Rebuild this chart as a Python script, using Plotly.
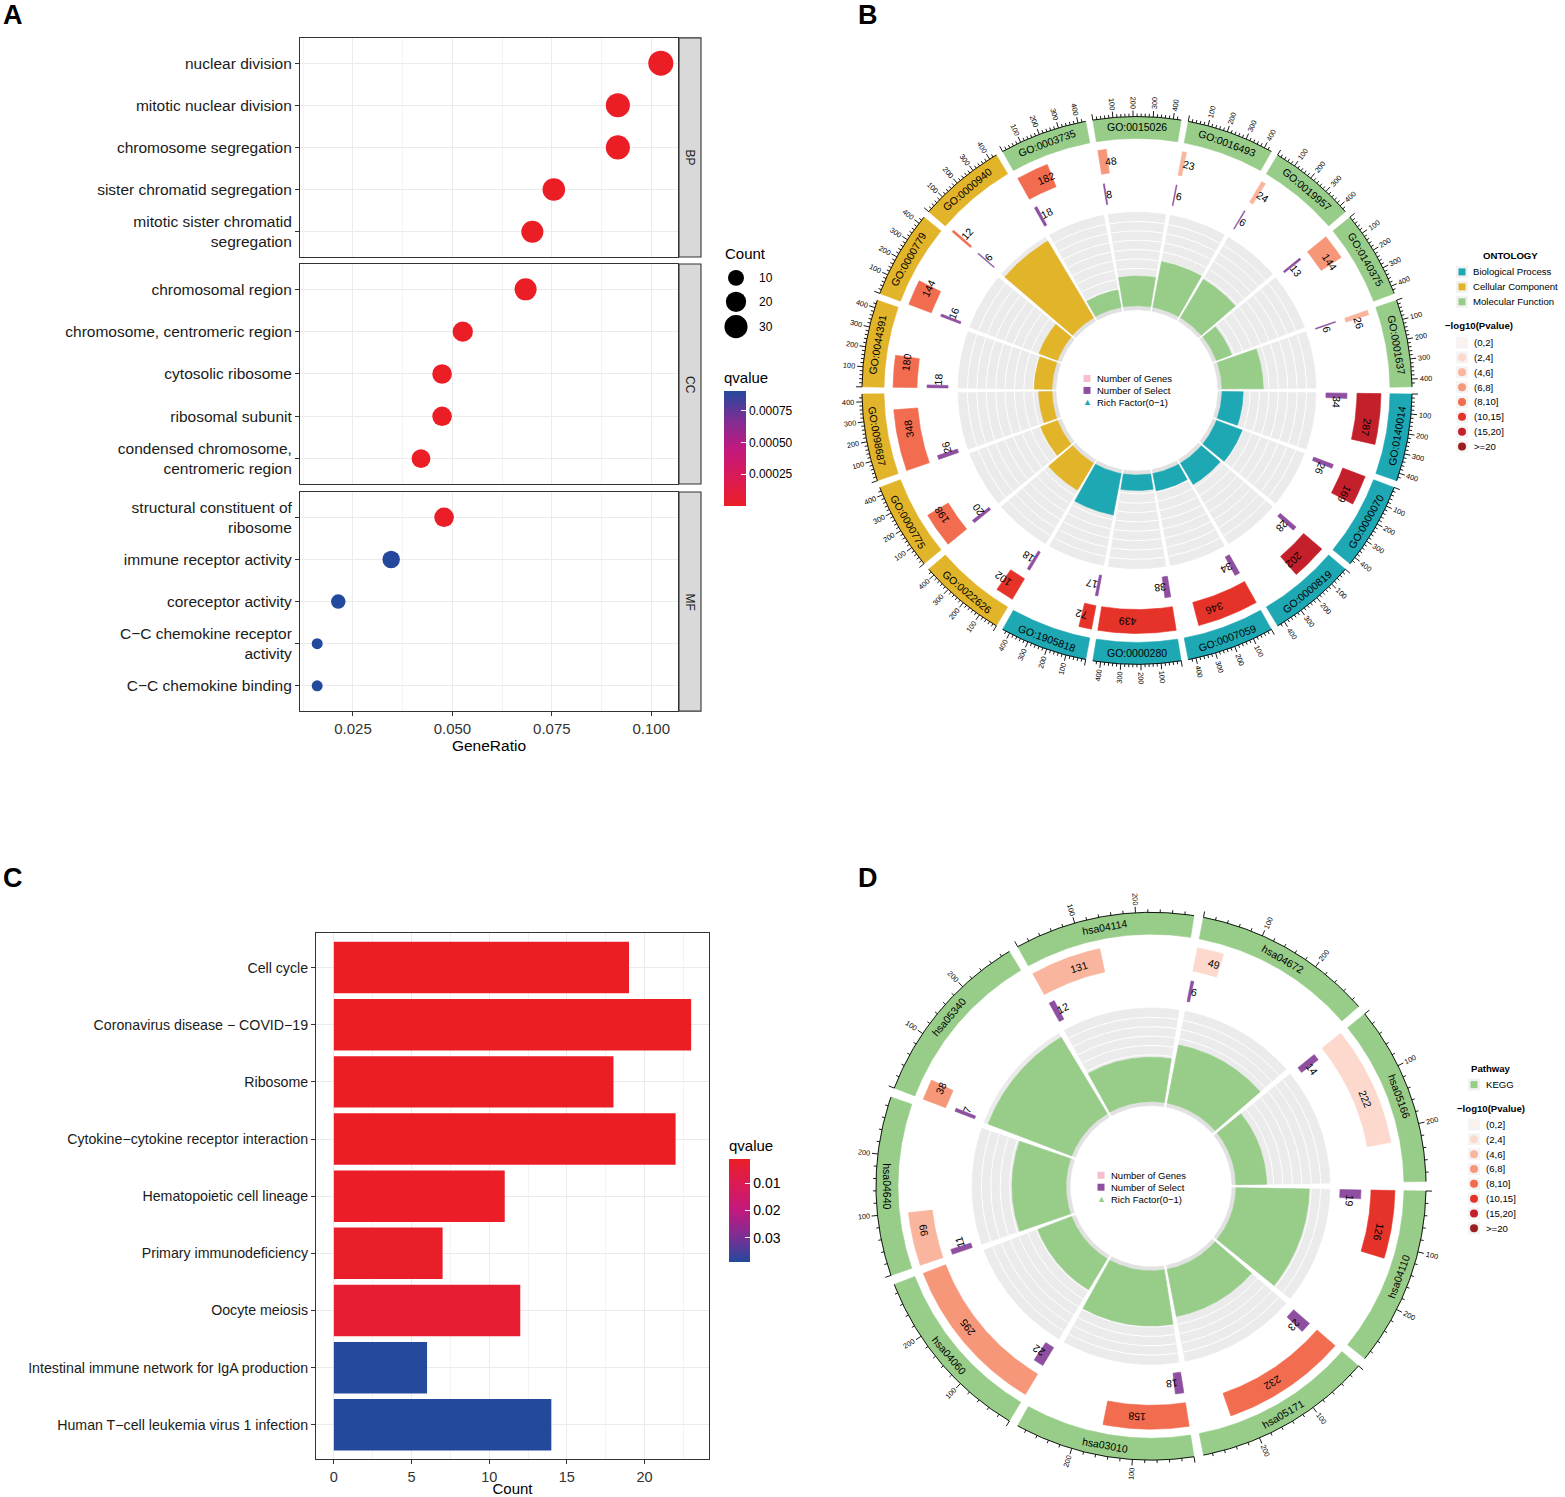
import numpy as np
import plotly.graph_objects as go

W, H = 1565, 1497
FONT = "Liberation Sans, Arial, Helvetica, sans-serif"
M = "\u2212"

# ================= Panel A : GO dot plot =================
a_bp_terms = ["nuclear division", "mitotic nuclear division", "chromosome segregation",
              "sister chromatid segregation", "mitotic sister chromatid<br>segregation"]
a_bp_ratio = [0.1024, 0.0916, 0.0916, 0.0755, 0.0701]
a_bp_count = [38, 34, 34, 28, 26]
a_bp_qvalue = [3.1e-13, 8.4e-12, 1.6e-10, 2.7e-9, 9.3e-9]

a_cc_terms = ["chromosomal region", "chromosome, centromeric region", "cytosolic ribosome",
              "ribosomal subunit", "condensed chromosome,<br>centromeric region"]
a_cc_ratio = [0.0684, 0.0526, 0.0474, 0.0474, 0.0421]
a_cc_count = [26, 20, 18, 18, 16]
a_cc_qvalue = [5.2e-9, 1.4e-7, 2.2e-7, 3.9e-7, 1.1e-6]

a_mf_terms = ["structural constituent of<br>ribosome", "immune receptor activity", "coreceptor activity",
              f"C{M}C chemokine receptor<br>activity", f"C{M}C chemokine binding"]
a_mf_ratio = [0.0479, 0.0346, 0.0213, 0.0160, 0.0160]
a_mf_count = [18, 13, 8, 6, 6]
a_mf_qvalue = [6.0e-6, 0.000900, 0.000905, 0.000905, 0.000905]

a_facets = ["BP", "CC", "MF"]
a_count_breaks = [10, 20, 30]
a_q_ticks = [0.00025, 0.00050, 0.00075]

# ================= Panel C : KEGG bar chart =================
c_terms = ["Cell cycle", f"Coronavirus disease {M} COVID{M}19", "Ribosome",
           f"Cytokine{M}cytokine receptor interaction", "Hematopoietic cell lineage",
           "Primary immunodeficiency", "Oocyte meiosis",
           "Intestinal immune network for IgA production",
           f"Human T{M}cell leukemia virus 1 infection"]
c_count = [19, 23, 18, 22, 11, 7, 12, 6, 14]
c_qvalue = [0.0011, 0.0011, 0.0011, 0.0011, 0.0012, 0.0015, 0.0034, 0.0388, 0.0389]
c_q_ticks = [0.01, 0.02, 0.03]

# ================= Panel B : GO circos =================
go_ids = ["GO:0140014", "GO:0000070", "GO:0000819", "GO:0007059", "GO:0000280", "GO:1905818",
          "GO:0022626", "GO:0000775", "GO:0098687", "GO:0044391", "GO:0000779", "GO:0000940",
          "GO:0003735", "GO:0015026", "GO:0016493", "GO:0019957", "GO:0140375", "GO:0001637"]
go_ontology = ["BP", "BP", "BP", "BP", "BP", "BP",
               "CC", "CC", "CC", "CC", "CC", "CC",
               "MF", "MF", "MF", "MF", "MF", "MF"]
go_genes = [287, 169, 202, 346, 439, 72, 102, 198, 348, 180, 144, 12, 182, 48, 23, 24, 144, 26]
go_select = [34, 26, 28, 34, 38, 17, 18, 20, 26, 18, 16, 6, 18, 8, 6, 6, 13, 6]
go_pbin = ["(15,20]", "(15,20]", "(15,20]", "(10,15]", "(10,15]", "(10,15]",
           "(10,15]", "(8,10]", "(8,10]", "(8,10]", "(8,10]", "(8,10]",
           "(8,10]", "(6,8]", "(4,6]", "(4,6]", "(6,8]", "(4,6]"]

# ================= Panel D : KEGG circos =================
kegg_ids = ["hsa04110", "hsa05171", "hsa03010", "hsa04060", "hsa04640",
            "hsa05340", "hsa04114", "hsa04672", "hsa05166"]
kegg_genes = [126, 232, 158, 295, 99, 38, 131, 49, 222]
kegg_select = [19, 23, 18, 22, 11, 7, 12, 6, 14]
kegg_pbin = ["(10,15]", "(8,10]", "(8,10]", "(6,8]", "(4,6]", "(6,8]", "(4,6]", "(2,4]", "(2,4]"]

PVAL_BINS = ["(0,2]", "(2,4]", "(4,6]", "(6,8]", "(8,10]", "(10,15]", "(15,20]", ">=20"]

# ---------------- styles ----------------
PVAL_COLORS = ["#FDF1EC", "#FCD9CC", "#F9B59D", "#F6977A", "#F26C4F", "#E6332A", "#C3202B", "#9B1D22"]
ONT_COLORS = {"BP": "#1EA8B4", "CC": "#E2B42A", "MF": "#97CD89"}
KEGG_COLOR = "#97CD89"
PURPLE = "#8E4FA0"
PINK = "#F7BECB"
QSCALE = [[0.0, "#EB1E26"], [0.25, "#DB1A56"], [0.5, "#C1197F"], [0.75, "#7D2E93"], [1.0, "#23499D"]]
QSCALE_REV = [[1 - s, c] for s, c in reversed(QSCALE)]
GRID = "#EBEBEB"
AXC = "#333333"
A_TICK_FS = 15.5
C_TICK_FS = 14.2


def fx(p):
    return p / W


def fy(p):
    return 1 - p / H


def norm180(a):
    return (a + 180.0) % 360.0 - 180.0


def readable(a):
    a = norm180(a)
    if a > 90:
        a -= 180
    elif a <= -90:
        a += 180
    return a


def pol(r, t):
    t = np.radians(t)
    return float(r * np.cos(t)), float(r * np.sin(t))


def arc(r, t0, t1, step=0.4):
    n = max(2, int(abs(t1 - t0) / step) + 1)
    t = np.radians(np.linspace(t0, t1, n))
    return list(r * np.cos(t)), list(r * np.sin(t))


class Poly:
    def __init__(self):
        self.x, self.y = [], []

    def wedge(self, t0, t1, r0, r1):
        xo, yo = arc(r1, t0, t1)
        xi, yi = arc(r0, t1, t0)
        self.x += xo + xi + [xo[0], None]
        self.y += yo + yi + [yo[0], None]


fig = go.Figure()
annotations = []
shapes = []

# ================= Panel A traces =================
a_terms = [a_bp_terms, a_cc_terms, a_mf_terms]
a_ratio = [a_bp_ratio, a_cc_ratio, a_mf_ratio]
a_count = [a_bp_count, a_cc_count, a_mf_count]
a_q = [a_bp_qvalue, a_cc_qvalue, a_mf_qvalue]
all_counts = sum(a_count, [])
all_ratio = sum(a_ratio, [])
all_q = sum(a_q, [])
cmin_c, cmax_c = min(all_counts), max(all_counts)


def dot_size(c):
    return 11 + 14 * np.sqrt(max(c - cmin_c, 0) / (cmax_c - cmin_c))


rmin, rmax = min(all_ratio), max(all_ratio)
a_xrange = [rmin - 0.05 * (rmax - rmin), rmax + 0.05 * (rmax - rmin)]
facet_px = [(38, 258), (265, 486), (494, 714)]

for k in range(3):
    fig.add_trace(go.Scatter(
        x=a_ratio[k], y=a_terms[k], mode="markers",
        marker=dict(size=[dot_size(c) for c in a_count[k]], color=a_q[k], coloraxis="coloraxis",
                    line=dict(width=0), opacity=1),
        xaxis=f"x{k + 1}", yaxis=f"y{k + 1}", hovertemplate="%{y}<br>GeneRatio=%{x}<extra></extra>"))

# ================= Panel C trace =================
fig.add_trace(go.Bar(
    x=c_count, y=c_terms, orientation="h", width=0.9,
    marker=dict(color=[-q for q in c_qvalue], coloraxis="coloraxis2", line=dict(width=0)),
    xaxis="x4", yaxis="y4", hovertemplate="%{y}: %{x}<extra></extra>"))


# ================= circos builder =================
def build_circos(ids, colors, genes, select, pbins, xa, ya, gap):
    n = len(ids)
    step = 360.0 / n
    span = step - gap
    xmax = float(max(genes))
    rich = [s / g for s, g in zip(select, genes)]
    ymax = max(rich) * 1.05
    RB = (253, 275)
    RG = (220, 244)
    RS = (189, 210)
    RR = (85, 179)
    RBASE = 81

    def th(i, x):
        return -i * step - gap / 2 - x / xmax * span

    layer_names = ["base", "bg", "rich", "gene", "sel", "band"]
    layers = {k: {} for k in layer_names}

    def add(layer, color, t0, t1, r0, r1):
        layers[layer].setdefault(color, Poly()).wedge(t0, t1, r0, r1)

    gx, gy, tx, ty = [], [], [], []
    ann = []

    def txt(x, y, s, ang, size):
        ann.append(dict(x=x, y=y, xref=xa, yref=ya, text=s, showarrow=False, textangle=ang,
                        xanchor="center", yanchor="middle", font=dict(size=size, color="black", family=FONT)))

    for i in range(n):
        t0, t1 = th(i, 0), th(i, xmax)
        add("base", "#E1E1E1", t0, t1, RBASE, RR[0])
        add("bg", "#EBEBEB", t0, t1, RR[0], RR[1])
        for k in range(1, 10):
            r = RR[0] + k / 10 * (RR[1] - RR[0])
            x_, y_ = arc(r, t0, t1)
            gx += x_ + [None]
            gy += y_ + [None]
        add("rich", colors[i], t0, t1, RR[0], RR[0] + rich[i] / ymax * (RR[1] - RR[0]))
        pc = PVAL_COLORS[PVAL_BINS.index(pbins[i])]
        add("gene", pc, t0, th(i, genes[i]), RG[0], RG[1])
        add("sel", PURPLE, t0, th(i, select[i]), RS[0], RS[1])
        add("band", colors[i], t0, t1, RB[0], RB[1])
        x_, y_ = arc(RB[1], t0, t1)
        tx += x_ + [None]
        ty += y_ + [None]
        for v in range(0, int(xmax) + 1, 20):
            t = th(i, v)
            big = v % 100 == 0
            xa0, ya0 = pol(RB[1], t)
            xa1, ya1 = pol(RB[1] + (6 if big else 3), t)
            tx += [xa0, xa1, None]
            ty += [ya0, ya1, None]
            if big and v > 0:
                lx, ly = pol(RB[1] + 14, t)
                txt(lx, ly, str(v), readable(-t), 7.3)
        tc = th(i, xmax / 2)
        lx, ly = pol((RB[0] + RB[1]) / 2, tc)
        txt(lx, ly, ids[i], readable(90 - tc), 10.5)
        for val, (r0_, r1_) in ((genes[i], RG), (select[i], RS)):
            s = str(val)
            rm = (r0_ + r1_) / 2
            w = len(s) * 0.56 * 10.5
            t = th(i, val / 2) - np.degrees((w / 2 + 1) / rm)
            lx, ly = pol(rm, t)
            txt(lx, ly, s, norm180(90 - t), 10.5)

    traces = []

    def fill_traces(layer):
        for col, p in layers[layer].items():
            traces.append(go.Scatter(x=p.x, y=p.y, mode="lines", fill="toself", fillcolor=col,
                                     line=dict(color=col, width=0.6), hoverinfo="skip",
                                     xaxis=xa, yaxis=ya))

    fill_traces("base")
    fill_traces("bg")
    traces.append(go.Scatter(x=gx, y=gy, mode="lines", line=dict(color="white", width=1),
                             hoverinfo="skip", xaxis=xa, yaxis=ya))
    for ln in ["rich", "gene", "sel", "band"]:
        fill_traces(ln)
    traces.append(go.Scatter(x=tx, y=ty, mode="lines", line=dict(color="black", width=0.9),
                             hoverinfo="skip", xaxis=xa, yaxis=ya))
    return traces, ann


b_colors = [ONT_COLORS[o] for o in go_ontology]
tr, an = build_circos(go_ids, b_colors, go_genes, go_select, go_pbin, "x5", "y5", 1.5)
for t in tr:
    fig.add_trace(t)
annotations += an

d_colors = [KEGG_COLOR for _ in kegg_ids]
tr, an = build_circos(kegg_ids, d_colors, kegg_genes, kegg_select, kegg_pbin, "x6", "y6", 2.0)
for t in tr:
    fig.add_trace(t)
annotations += an

# ================= axes =================
layout_axes = {}
for k in range(3):
    top, bot = facet_px[k]
    bottom = (k == 2)
    layout_axes[f"xaxis{k + 1}"] = dict(
        domain=[fx(300), fx(678)], range=a_xrange, anchor=f"y{k + 1}",
        showline=True, mirror=True, linecolor=AXC, linewidth=1.1, zeroline=False,
        showgrid=True, gridcolor=GRID, gridwidth=1.1,
        tick0=0.025, dtick=0.025, tickformat=".3f",
        minor=dict(tick0=0.0125, dtick=0.0125, showgrid=True, gridcolor="#F3F3F3", gridwidth=0.8),
        ticks="outside" if bottom else "", ticklen=4, tickcolor=AXC,
        showticklabels=bottom, tickfont=dict(size=15, color="#333333", family=FONT),
        title=dict(text="GeneRatio" if bottom else "", font=dict(size=15.5, color="black", family=FONT),
                   standoff=2),
        fixedrange=True)
    layout_axes[f"yaxis{k + 1}"] = dict(
        domain=[fy(bot), fy(top)], anchor=f"x{k + 1}", type="category",
        categoryorder="array", categoryarray=a_terms[k], range=[len(a_terms[k]) - 0.4, -0.6],
        showline=True, mirror=True, linecolor=AXC, linewidth=1.1, zeroline=False,
        showgrid=True, gridcolor=GRID, gridwidth=1.1,
        ticks="outside", ticklen=4, tickcolor=AXC,
        tickfont=dict(size=A_TICK_FS, color="#1A1A1A", family=FONT), fixedrange=True)
    shapes.append(dict(type="rect", xref="paper", yref="paper", x0=fx(679), x1=fx(701),
                       y0=fy(bot), y1=fy(top), fillcolor="#D9D9D9", line=dict(color=AXC, width=1.1),
                       layer="above"))
    annotations.append(dict(x=fx(690), y=fy((top + bot) / 2), xref="paper", yref="paper",
                            text=a_facets[k], textangle=90, showarrow=False,
                            font=dict(size=12, color="#1A1A1A", family=FONT)))

cmx = max(c_count)
layout_axes["xaxis4"] = dict(
    domain=[fx(316), fx(709)], range=[-0.05 * cmx, 1.05 * cmx], anchor="y4",
    showline=True, mirror=True, linecolor=AXC, linewidth=1.1, zeroline=False,
    showgrid=True, gridcolor=GRID, gridwidth=1.1, tick0=0, dtick=5,
    minor=dict(tick0=2.5, dtick=5, showgrid=True, gridcolor="#F3F3F3", gridwidth=0.8),
    ticks="outside", ticklen=4, tickcolor=AXC,
    tickfont=dict(size=14.5, color="#333333", family=FONT),
    title=dict(text="Count", font=dict(size=15, color="black", family=FONT), standoff=2),
    fixedrange=True)
layout_axes["yaxis4"] = dict(
    domain=[fy(1465), fy(937)], anchor="x4", type="category",
    categoryorder="array", categoryarray=c_terms, range=[len(c_terms) - 0.4, -0.6],
    showline=True, mirror=True, linecolor=AXC, linewidth=1.1, zeroline=False,
    showgrid=True, gridcolor=GRID, gridwidth=1.1, ticks="outside", ticklen=4, tickcolor=AXC,
    tickfont=dict(size=C_TICK_FS, color="#1A1A1A", family=FONT), fixedrange=True)

for ax, cx, cy in (("5", 1137, 392), ("6", 1151, 1191)):
    layout_axes[f"xaxis{ax}"] = dict(domain=[fx(cx - 300), fx(cx + 300)], range=[-300, 300],
                                     visible=False, anchor=f"y{ax}", fixedrange=True)
    layout_axes[f"yaxis{ax}"] = dict(domain=[fy(cy + 300), fy(cy - 300)], range=[-300, 300],
                                     visible=False, anchor=f"x{ax}", fixedrange=True)

# ================= legends =================
# Panel A count legend
annotations.append(dict(x=fx(723), y=fy(255), xref="paper", yref="paper", text="Count",
                        showarrow=False, xanchor="left", yanchor="middle",
                        font=dict(size=15, color="black", family=FONT)))
for c, yy in zip(a_count_breaks, [279, 303, 328]):
    d = dot_size(c)
    shapes.append(dict(type="circle", xref="paper", yref="paper", xsizemode="pixel", ysizemode="pixel",
                       xanchor=fx(736), yanchor=fy(yy), x0=-d / 2, x1=d / 2, y0=-d / 2, y1=d / 2,
                       fillcolor="black", line=dict(width=0)))
    annotations.append(dict(x=fx(757), y=fy(yy), xref="paper", yref="paper", text=str(c),
                            showarrow=False, xanchor="left", yanchor="middle",
                            font=dict(size=12, color="black", family=FONT)))

LEG_FS = 9.6
# Panel B right legend
annotations.append(dict(x=fx(1510), y=fy(257), xref="paper", yref="paper", text="<b>ONTOLOGY</b>",
                        showarrow=False, xanchor="center", yanchor="middle",
                        font=dict(size=LEG_FS, color="black", family=FONT)))
for lab, key, yy in (("Biological Process", "BP", 273), ("Cellular Component", "CC", 288),
                     ("Molecular Function", "MF", 303)):
    shapes.append(dict(type="rect", xref="paper", yref="paper", xsizemode="pixel", ysizemode="pixel",
                       xanchor=fx(1462), yanchor=fy(yy), x0=-6, x1=6, y0=-6, y1=6,
                       fillcolor="#F2F2F2", line=dict(width=0)))
    shapes.append(dict(type="rect", xref="paper", yref="paper", xsizemode="pixel", ysizemode="pixel",
                       xanchor=fx(1462), yanchor=fy(yy), x0=-3.5, x1=3.5, y0=-3.5, y1=3.5,
                       fillcolor=ONT_COLORS[key], line=dict(width=0)))
    annotations.append(dict(x=fx(1471), y=fy(yy), xref="paper", yref="paper", text=lab, showarrow=False,
                            xanchor="left", yanchor="middle",
                            font=dict(size=LEG_FS, color="black", family=FONT)))

# Panel D right legend
annotations.append(dict(x=fx(1469), y=fy(1073), xref="paper", yref="paper", text="<b>Pathway</b>",
                        showarrow=False, xanchor="left", yanchor="middle",
                        font=dict(size=LEG_FS, color="black", family=FONT)))
shapes.append(dict(type="rect", xref="paper", yref="paper", xsizemode="pixel", ysizemode="pixel",
                   xanchor=fx(1474), yanchor=fy(1089), x0=-6, x1=6, y0=-6, y1=6,
                   fillcolor="#F2F2F2", line=dict(width=0)))
shapes.append(dict(type="rect", xref="paper", yref="paper", xsizemode="pixel", ysizemode="pixel",
                   xanchor=fx(1474), yanchor=fy(1089), x0=-3.5, x1=3.5, y0=-3.5, y1=3.5,
                   fillcolor=KEGG_COLOR, line=dict(width=0)))
annotations.append(dict(x=fx(1484), y=fy(1089), xref="paper", yref="paper", text="KEGG", showarrow=False,
                        xanchor="left", yanchor="middle", font=dict(size=LEG_FS, color="black", family=FONT)))

for tx_, ty_, cx_, y0_, stp in ((1443, 327, 1462, 344, 14.9), (1455, 1113, 1474, 1129, 14.9)):
    annotations.append(dict(x=fx(tx_), y=fy(ty_), xref="paper", yref="paper",
                            text=f"<b>{M}log10(Pvalue)</b>", showarrow=False, xanchor="left",
                            yanchor="middle", font=dict(size=LEG_FS, color="black", family=FONT)))
    for j, (lab, col) in enumerate(zip(PVAL_BINS, PVAL_COLORS)):
        yy = y0_ + j * stp
        shapes.append(dict(type="rect", xref="paper", yref="paper", xsizemode="pixel", ysizemode="pixel",
                           xanchor=fx(cx_), yanchor=fy(yy), x0=-6, x1=6, y0=-6, y1=6,
                           fillcolor="#F4F4F4", line=dict(width=0)))
        shapes.append(dict(type="circle", xref="paper", yref="paper", xsizemode="pixel", ysizemode="pixel",
                           xanchor=fx(cx_), yanchor=fy(yy), x0=-4, x1=4, y0=-4, y1=4,
                           fillcolor=col, line=dict(width=0)))
        annotations.append(dict(x=fx(cx_ + 10), y=fy(yy), xref="paper", yref="paper", text=lab,
                                showarrow=False, xanchor="left", yanchor="middle",
                                font=dict(size=LEG_FS, color="black", family=FONT)))

# centre legends of circos plots
for xa, ya, tri_col, yoff in (("x5", "y5", ONT_COLORS["BP"], 0), ("x6", "y6", KEGG_COLOR, -1)):
    items = [("Number of Genes", PINK, "sq"), ("Number of Select", PURPLE, "sq"),
             (f"Rich Factor(0{M}1)", tri_col, "tri")]
    for j, (lab, col, kind) in enumerate(items):
        yy = 12 - 12 * j + yoff
        if kind == "sq":
            shapes.append(dict(type="rect", xref=xa, yref=ya, xsizemode="pixel", ysizemode="pixel",
                               xanchor=-50, yanchor=yy, x0=-3.5, x1=3.5, y0=-3.5, y1=3.5,
                               fillcolor=col, line=dict(width=0)))
        else:
            annotations.append(dict(x=-50, y=yy, xref=xa, yref=ya, text="\u25B2", showarrow=False,
                                    xanchor="center", yanchor="middle",
                                    font=dict(size=9, color=col, family=FONT)))
        annotations.append(dict(x=-42, y=yy, xref=xa, yref=ya, text=lab, showarrow=False,
                                xanchor="left", yanchor="middle",
                                font=dict(size=9.5, color="black", family=FONT)))

# panel letters
for letter, lx, ly in (("A", 1, 15), ("B", 856, 15), ("C", 1, 882), ("D", 856, 882)):
    annotations.append(dict(x=fx(lx), y=fy(ly), xref="paper", yref="paper", text=f"<b>{letter}</b>",
                            showarrow=False, xanchor="left", yanchor="middle",
                            font=dict(size=27, color="black", family=FONT)))

fig.update_layout(
    width=W, height=H, margin=dict(l=0, r=0, t=0, b=0, pad=0),
    paper_bgcolor="white", plot_bgcolor="white", showlegend=False,
    font=dict(family=FONT, color="black"),
    coloraxis=dict(colorscale=QSCALE, cmin=min(all_q), cmax=max(all_q),
                   colorbar=dict(title=dict(text="qvalue", side="top", font=dict(size=15, family=FONT)),
                                 x=fx(724), xanchor="left", xpad=0, y=fy(508), yanchor="bottom", ypad=0,
                                 len=137, lenmode="pixels", thickness=22, thicknessmode="pixels",
                                 tickvals=a_q_ticks, ticktext=[f"{v:.5f}" for v in a_q_ticks],
                                 ticks="inside", ticklen=5, tickcolor="white", tickwidth=1,
                                 tickfont=dict(size=12, family=FONT), outlinewidth=0)),
    coloraxis2=dict(colorscale=QSCALE_REV, cmin=-max(c_qvalue), cmax=-min(c_qvalue),
                    colorbar=dict(title=dict(text="qvalue", side="top", font=dict(size=15, family=FONT)),
                                  x=fx(729), xanchor="left", xpad=0, y=fy(1267), yanchor="bottom", ypad=0,
                                  len=125, lenmode="pixels", thickness=21, thicknessmode="pixels",
                                  tickvals=[-v for v in c_q_ticks], ticktext=[f"{v:.2f}" for v in c_q_ticks],
                                  ticks="inside", ticklen=5, tickcolor="white", tickwidth=1,
                                  tickfont=dict(size=14, family=FONT), outlinewidth=0)),
    annotations=annotations, shapes=shapes,
    **layout_axes)

fig.write_html("out.html", config={"displayModeBar": False},
               post_script="document.body.style.margin='0px';document.body.style.overflow='hidden';")
